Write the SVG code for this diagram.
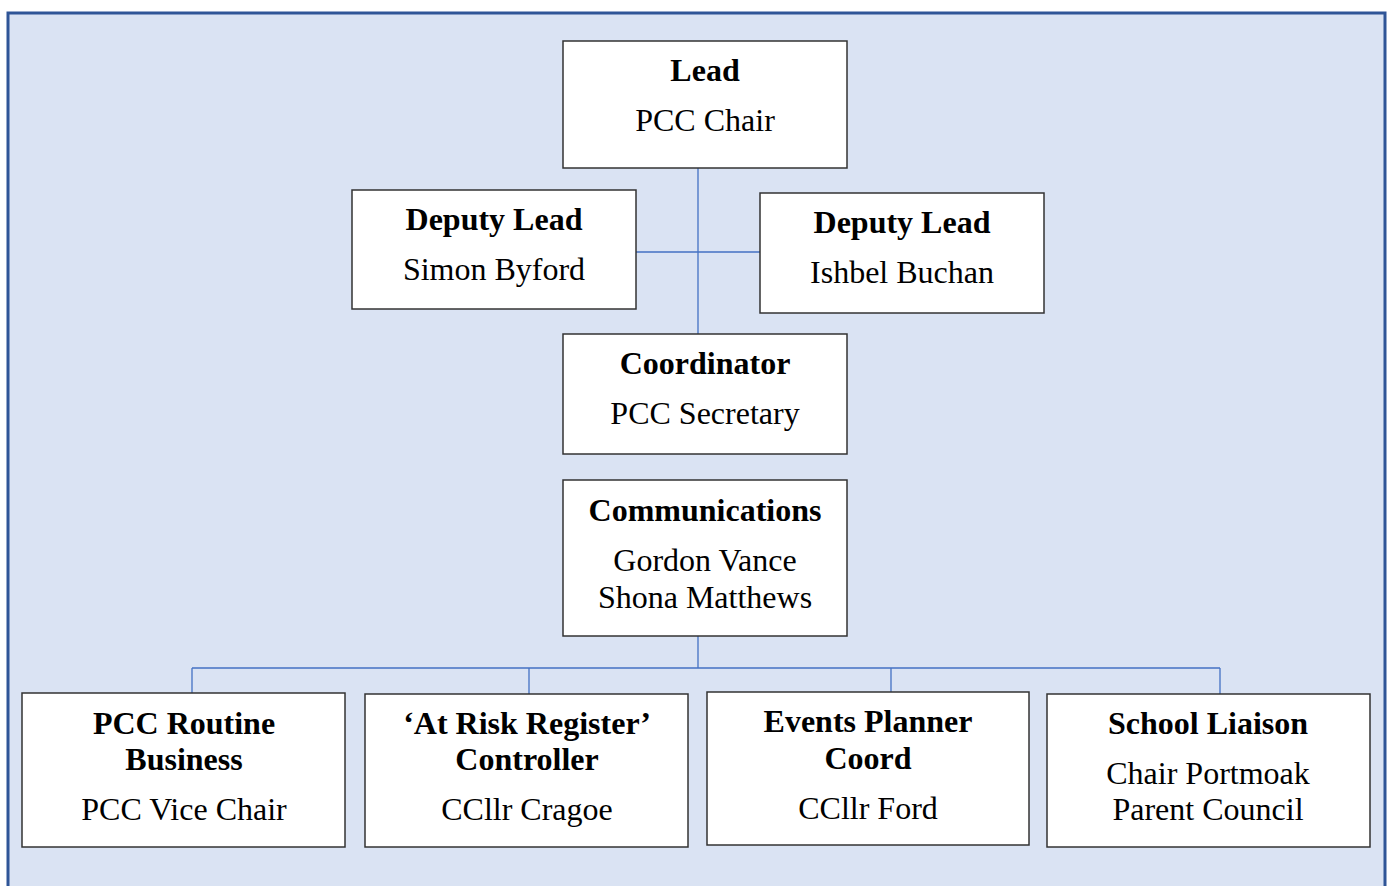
<svg xmlns="http://www.w3.org/2000/svg" width="1392" height="886" viewBox="0 0 1392 886">
<style>
.box{fill:#fff;stroke:#333;stroke-width:1.5}
.t{font-family:"Liberation Serif","Times New Roman",serif;font-size:32px;fill:#000;text-anchor:middle}
.b{font-weight:bold}
.c{fill:none;stroke:#4472C4;stroke-width:1.3}
</style>
<rect x="8" y="13" width="1377" height="885" fill="#DAE3F3" stroke="#2F5597" stroke-width="3"/>
<g id="connectors">
<path class="c" d="M698 168V334M636 252H760M698 636V668M192 668H1220M192 668V693M529 668V694M891 668V692M1220 668V694"/>
</g>
<g id="lead"><rect class="box" x="563" y="41" width="284" height="127"/><text class="t b" x="705" y="81">Lead</text><text class="t" x="705" y="131">PCC Chair</text></g>
<g id="deputy1"><rect class="box" x="352" y="190" width="284" height="119"/><text class="t b" x="494" y="230">Deputy Lead</text><text class="t" x="494" y="280">Simon Byford</text></g>
<g id="deputy2"><rect class="box" x="760" y="193" width="284" height="120"/><text class="t b" x="902" y="233">Deputy Lead</text><text class="t" x="902" y="283">Ishbel Buchan</text></g>
<g id="coordinator"><rect class="box" x="563" y="334" width="284" height="120"/><text class="t b" x="705" y="374">Coordinator</text><text class="t" x="705" y="424">PCC Secretary</text></g>
<g id="communications"><rect class="box" x="563" y="480" width="284" height="156"/><text class="t b" x="705" y="521">Communications</text><text class="t" x="705" y="571">Gordon Vance</text><text class="t" x="705" y="608">Shona Matthews</text></g>
<g id="routine"><rect class="box" x="22" y="693" width="323" height="154"/><text class="t b" x="184" y="734">PCC Routine</text><text class="t b" x="184" y="770">Business</text><text class="t" x="184" y="820">PCC Vice Chair</text></g>
<g id="atrisk"><rect class="box" x="365" y="694" width="323" height="153"/><text class="t b" x="527" y="734">‘At Risk Register’</text><text class="t b" x="527" y="770">Controller</text><text class="t" x="527" y="820">CCllr Cragoe</text></g>
<g id="events"><rect class="box" x="707" y="692" width="322" height="153"/><text class="t b" x="868" y="732">Events Planner</text><text class="t b" x="868" y="769">Coord</text><text class="t" x="868" y="819">CCllr Ford</text></g>
<g id="school"><rect class="box" x="1047" y="694" width="323" height="153"/><text class="t b" x="1208" y="734">School Liaison</text><text class="t" x="1208" y="784">Chair Portmoak</text><text class="t" x="1208" y="820">Parent Council</text></g>
</svg>
